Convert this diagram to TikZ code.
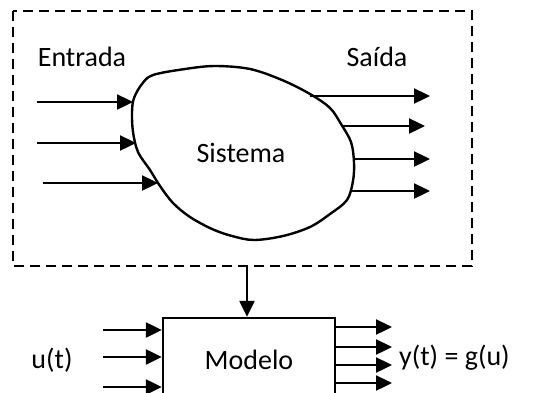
\documentclass[tikz,border=0pt]{standalone}
\usepackage{fontspec}
\setmainfont{Carlito}
\usetikzlibrary{arrows.meta}
\tikzset{
  flow/.style={line width=2.4pt, -{Triangle[length=16pt,width=15pt]}},
  lbl/.style={font=\fontsize{28}{32}\selectfont, inner sep=0pt},
  frame/.style={line width=2.8pt, dash pattern=on 10pt off 6pt},
}
\begin{document}
\begin{tikzpicture}[x=1pt,y=-1pt]
  \useasboundingbox (0,0) rectangle (542,392);
  \clip (0,0) rectangle (542,392);
  \fill[white] (0,0) rectangle (542,392);

  % outer dashed frame around the real system
  \draw[frame] (13,11) rectangle (472,266);
  \coordinate (frameS) at (247,266);

  % the system drawn as an irregular blob
  \draw[line width=2.4pt, fill=white] plot[smooth cycle, tension=0.55] coordinates {
    (153,75) (185,69) (215,66) (250,69) (282,80) (310,94) (330,108) (341,124)
    (351,142) (354,162) (353,181) (347,200) (330,214) (310,227) (283,236)
    (254,240) (232,236) (212,229) (190,217) (173,203) (160,186) (150,170)
    (138,152) (133,132) (132,112) (134,98) (142,84)};
  \node[lbl] (sys) at (241,153) {Sistema};
  \node[lbl] (ent) at (82,57) {Entrada};
  \node[lbl] (sai) at (377,57) {Saída};

  % inputs entering the blob
  \coordinate (i1a) at (37,102);  \coordinate (i1b) at (133,102);
  \coordinate (i2a) at (37,143);  \coordinate (i2b) at (136,143);
  \coordinate (i3a) at (43,183);  \coordinate (i3b) at (158,183);
  \draw[flow] (i1a) -- (i1b);
  \draw[flow] (i2a) -- (i2b);
  \draw[flow] (i3a) -- (i3b);

  % outputs leaving the blob
  \coordinate (o1a) at (310,96);  \coordinate (o1b) at (430,96);
  \coordinate (o2a) at (342,126); \coordinate (o2b) at (425,126);
  \coordinate (o3a) at (354,159); \coordinate (o3b) at (430,159);
  \coordinate (o4a) at (350,191); \coordinate (o4b) at (430,191);
  \draw[flow] (o1a) -- (o1b);
  \draw[flow] (o2a) -- (o2b);
  \draw[flow] (o3a) -- (o3b);
  \draw[flow] (o4a) -- (o4b);

  % model block
  \node[draw, line width=2.4pt, minimum width=172pt, minimum height=86pt,
        inner sep=0pt] (mod) at (249,361) {};
  \node[lbl] (modt) at (249,360) {Modelo};
  \draw[flow] (frameS) -- (frameS |- mod.north);

  \coordinate (m1) at (103,330); \coordinate (m2) at (103,357); \coordinate (m3) at (103,387);
  \draw[flow] (m1) -- (m1 -| mod.west);
  \draw[flow] (m2) -- (m2 -| mod.west);
  \draw[flow] (m3) -- (m3 -| mod.west);

  \coordinate (n1) at (392,327); \coordinate (n2) at (392,347);
  \coordinate (n3) at (392,365); \coordinate (n4) at (392,383);
  \draw[flow] (n1 -| mod.east) -- (n1);
  \draw[flow] (n2 -| mod.east) -- (n2);
  \draw[flow] (n3 -| mod.east) -- (n3);
  \draw[flow] (n4 -| mod.east) -- (n4);

  \node[lbl] (u) at (52,360) {u(t)};
  \node[lbl, anchor=west] (y) at (399,358) {y(t) = g(u)};
\end{tikzpicture}
\end{document}
